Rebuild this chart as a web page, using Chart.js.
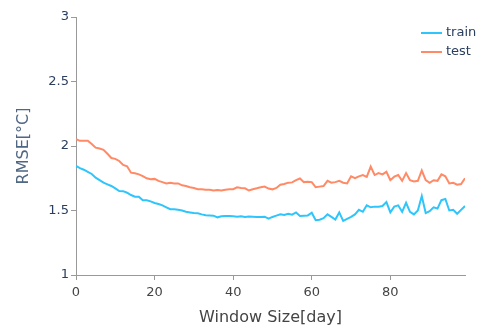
<!DOCTYPE html>
<html lang="en">
<head>
  <meta charset="UTF-8">
  <title>RMSE vs Window Size</title>
  <style>
    html, body { margin: 0; padding: 0; background: #fff; }
    .wrap { width: 484px; height: 327px; }
  </style>
</head>
<body>
  <div class="wrap"><canvas id="rmseChart" width="484" height="327"></canvas></div>

  <script src="https://cdn.jsdelivr.net/npm/chart.js"></script>
  <script>
    // window size in days: 0..99
    const windowDays = Array.from({ length: 100 }, (_, i) => i);

    const trainRmse = [
      1.845, 1.829, 1.816, 1.80, 1.783, 1.754, 1.736, 1.716, 1.703, 1.69,
      1.672, 1.651, 1.65, 1.638, 1.62, 1.607, 1.607, 1.579, 1.579, 1.571,
      1.558, 1.55, 1.54, 1.525, 1.51, 1.51, 1.505, 1.50, 1.49, 1.485,
      1.48, 1.478, 1.47, 1.463, 1.462, 1.46, 1.447, 1.455, 1.458, 1.458,
      1.455, 1.452, 1.455, 1.45, 1.453, 1.452, 1.45, 1.45, 1.452, 1.437,
      1.45, 1.46, 1.47, 1.465, 1.475, 1.468, 1.485, 1.458, 1.46, 1.462,
      1.483, 1.425, 1.428, 1.44, 1.47, 1.45, 1.43, 1.485, 1.42, 1.435,
      1.45, 1.47, 1.505, 1.49, 1.54, 1.525, 1.53, 1.53, 1.535, 1.565,
      1.485, 1.53, 1.54, 1.49, 1.56, 1.49, 1.47, 1.50, 1.612, 1.48,
      1.495, 1.525, 1.515, 1.58, 1.59, 1.50, 1.505, 1.475, 1.505, 1.535
    ];

    const testRmse = [
      2.054, 2.04, 2.04, 2.04, 2.015, 1.987, 1.98, 1.97, 1.94, 1.907,
      1.90, 1.884, 1.853, 1.843, 1.793, 1.788, 1.78, 1.767, 1.75, 1.742,
      1.745, 1.73, 1.72, 1.71, 1.715, 1.71, 1.71, 1.695, 1.69, 1.68,
      1.675, 1.665, 1.665, 1.66, 1.66, 1.655, 1.658, 1.655, 1.66, 1.665,
      1.665, 1.68, 1.675, 1.672, 1.655, 1.665, 1.672, 1.68, 1.685, 1.67,
      1.664, 1.675, 1.70, 1.705, 1.716, 1.718, 1.735, 1.748, 1.72, 1.722,
      1.72, 1.68, 1.685, 1.69, 1.73, 1.715, 1.72, 1.73, 1.715, 1.71,
      1.765, 1.75, 1.765, 1.775, 1.76, 1.84, 1.775, 1.79, 1.78, 1.80,
      1.735, 1.762, 1.775, 1.73, 1.79, 1.735, 1.725, 1.73, 1.81, 1.735,
      1.715, 1.735, 1.73, 1.78, 1.765, 1.71, 1.715, 1.70, 1.705, 1.75
    ];

    const seriesNames = ['train', 'test'];
    const seriesColors = ['#2ec5fc', '#ff8a65'];
    const yTicks = [1, 1.5, 2, 2.5, 3];
    const xTicks = [0, 20, 40, 60, 80];

    // legend drawn top right, plotly-like (line sample + name)
    const cornerLegend = {
      id: 'cornerLegend',
      afterDraw(chart) {
        const ctx = chart.ctx;
        ctx.save();
        ctx.font = '13px "DejaVu Sans"';
        ctx.textBaseline = 'middle';
        chart.data.datasets.forEach((ds, i) => {
          const y = 33 + i * 19;
          ctx.strokeStyle = ds.borderColor;
          ctx.lineWidth = 2;
          ctx.beginPath();
          ctx.moveTo(421, y);
          ctx.lineTo(442, y);
          ctx.stroke();
          ctx.fillStyle = '#2a3f5f';
          ctx.fillText(ds.label, 446, y);
        });
        ctx.restore();
      }
    };

    const ctx = document.getElementById('rmseChart').getContext('2d');
    new Chart(ctx, {
      type: 'line',
      data: {
        labels: windowDays,
        datasets: seriesNames.map((name, i) => ({
          label: name,
          data: (i === 0 ? trainRmse : testRmse).map((v, j) => ({ x: windowDays[j], y: v })),
          borderColor: seriesColors[i],
          backgroundColor: seriesColors[i],
          borderWidth: 2,
          pointRadius: 0,
          tension: 0
        }))
      },
      options: {
        responsive: false,
        animation: false,
        layout: { padding: { left: 0, top: 17, right: 19, bottom: 0 } },
        plugins: {
          legend: { display: false },
          tooltip: { enabled: false }
        },
        scales: {
          x: {
            type: 'linear',
            min: 0,
            max: 99,
            afterBuildTicks: axis => { axis.ticks = xTicks.map(v => ({ value: v })); },
            afterFit: axis => { axis.height = 52; },
            grid: { drawOnChartArea: false, drawTicks: true, tickLength: 5, color: '#999' },
            border: { display: true, color: '#999', width: 1 },
            ticks: {
              padding: 5,
              color: '#444',
              font: { family: 'DejaVu Sans', size: 13 },
              maxRotation: 0
            },
            title: {
              display: true,
              text: 'Window Size[day]',
              color: '#444',
              font: { family: 'DejaVu Sans', size: 16 },
              padding: { top: 2, bottom: 0 }
            }
          },
          y: {
            min: 1,
            max: 3,
            afterBuildTicks: axis => { axis.ticks = yTicks.map(v => ({ value: v })); },
            afterFit: axis => { axis.width = 76; },
            grid: { drawOnChartArea: false, drawTicks: true, tickLength: 5, color: '#999' },
            border: { display: true, color: '#999', width: 1 },
            ticks: {
              padding: 2,
              color: '#2a3f5f',
              font: { family: 'DejaVu Sans', size: 13 },
              callback: v => String(v)
            },
            title: {
              display: true,
              text: 'RMSE[°C]',
              color: '#506784',
              font: { family: 'DejaVu Sans', size: 16 },
              padding: { top: 14, bottom: 0 }
            }
          }
        }
      },
      plugins: [cornerLegend]
    });
  </script>
</body>
</html>
